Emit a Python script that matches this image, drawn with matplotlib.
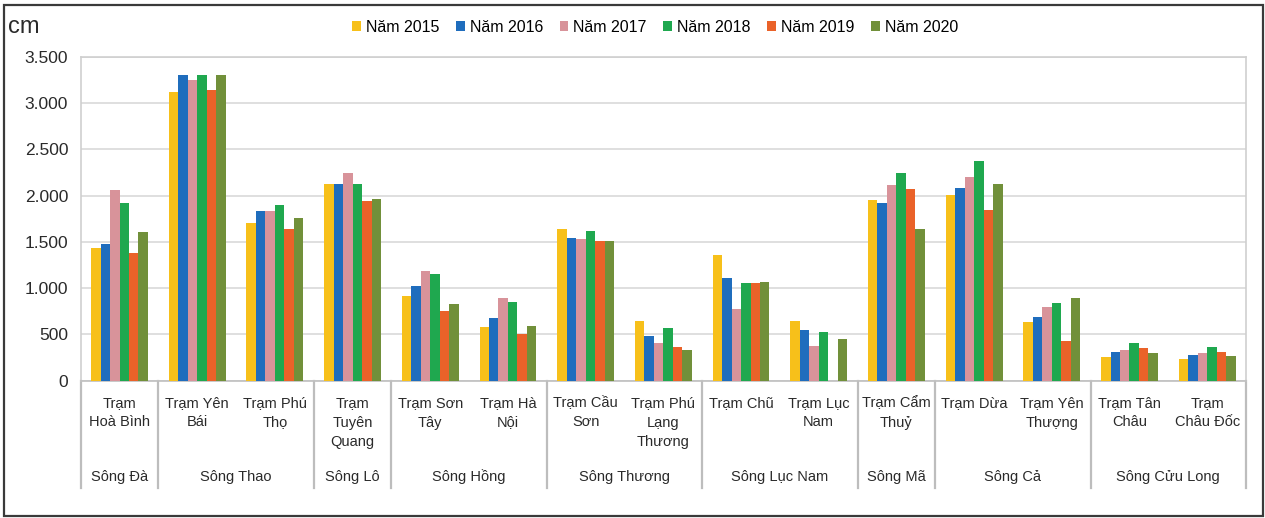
import numpy as np
import matplotlib
matplotlib.use("Agg")
import matplotlib.pyplot as plt
from matplotlib.patches import Patch, Rectangle
from matplotlib.transforms import blended_transform_factory
from matplotlib.ticker import FuncFormatter

plt.rcParams['font.family'] = ['Liberation Sans', 'DejaVu Sans']

stations = ["Trạm\nHoà Bình", "Trạm Yên\nBái", "Trạm Phú\nThọ", "Trạm\nTuyên\nQuang",
            "Trạm Sơn\nTây", "Trạm Hà\nNội", "Trạm Cầu\nSơn", "Trạm Phú\nLạng\nThương",
            "Trạm Chũ", "Trạm Lục\nNam", "Trạm Cẩm\nThuỷ", "Trạm Dừa", "Trạm Yên\nThượng",
            "Trạm Tân\nChâu", "Trạm\nChâu Đốc"]
rivers = ["Sông Đà", "Sông Thao", "Sông Lô", "Sông Hồng", "Sông Thương",
          "Sông Lục Nam", "Sông Mã", "Sông Cả", "Sông Cửu Long"]
river_sizes = [1, 2, 1, 2, 2, 2, 1, 2, 2]

years = ["Năm 2015", "Năm 2016", "Năm 2017", "Năm 2018", "Năm 2019", "Năm 2020"]
v2015 = [1430, 3120, 1700, 2125, 910, 576, 1635, 645, 1358, 645, 1950, 2006, 637, 252, 234]
v2016 = [1480, 3305, 1833, 2125, 1023, 681, 1541, 486, 1105, 547, 1916, 2078, 691, 306, 274]
v2017 = [2065, 3250, 1833, 2240, 1188, 889, 1530, 403, 771, 374, 2114, 2197, 800, 331, 302]
v2018 = [1916, 3305, 1898, 2125, 1152, 853, 1617, 573, 1051, 522, 2240, 2370, 843, 411, 367]
v2019 = [1376, 3145, 1635, 1941, 753, 500, 1505, 367, 1051, np.nan, 2067, 1844, 432, 357, 306]
v2020 = [1606, 3305, 1754, 1959, 828, 594, 1505, 331, 1066, 447, 1635, 2125, 897, 295, 266]
series = [v2015, v2016, v2017, v2018, v2019, v2020]
colors = ["#F7C01A", "#1F6DBD", "#D8939A", "#1FA84F", "#EA6229", "#71903A"]

W, H = 1265, 518
fig = plt.figure(figsize=(W / 100, H / 100), dpi=100)
ax_l, ax_r, ax_t, ax_b = 80.7, 1246, 56.7, 380.7
ax = fig.add_axes([ax_l / W, 1 - ax_b / H, (ax_r - ax_l) / W, (ax_b - ax_t) / H])

x = np.arange(len(stations))
bw = 0.122
for j, (vals, c) in enumerate(zip(series, colors)):
    ax.bar(x + (j - 2.5) * bw, vals, width=bw, color=c, zorder=3, linewidth=0)

ax.set_xlim(-0.5, len(stations) - 0.5)
ax.set_ylim(0, 3500)
ax.set_yticks(np.arange(0, 3501, 500))
ax.yaxis.set_major_formatter(FuncFormatter(lambda v, p: f"{int(v):,}".replace(",", ".")))
ax.tick_params(axis='y', length=0, pad=9, labelsize=12.5, labelcolor='#2a2a2a')
ax.set_xticks([])
ax.grid(axis='y', color='#D9D9D9', linewidth=1.2, zorder=0)
for s in ax.spines.values():
    s.set_color('#CFCFCF')
    s.set_linewidth(1.2)
ax.spines['bottom'].set_color('#BFBFBF')

# category labels
tr = blended_transform_factory(ax.transData, fig.transFigure)
for i, lab in enumerate(stations):
    ax.text(i, 1 - 396 / H, lab, transform=tr, ha='center', va='top',
            fontsize=10.5, color='#2a2a2a', linespacing=1.5, clip_on=False)

# river labels and separators
bounds = np.concatenate([[0], np.cumsum(river_sizes)])
for k, r in enumerate(rivers):
    c = (bounds[k] + bounds[k + 1]) / 2 - 0.5
    ax.text(c, 1 - 477 / H, r, transform=tr, ha='center', va='center',
            fontsize=10.5, color='#2a2a2a', clip_on=False)
for b in bounds:
    ax.plot([b - 0.5, b - 0.5], [1 - ax_b / H, 1 - 488 / H], transform=tr,
            color='#BDBDBD', linewidth=1.6, clip_on=False, zorder=1)

# legend
handles = [Patch(facecolor=c, edgecolor='none', label=y) for c, y in zip(colors, years)]
fig.legend(handles=handles, loc='center', bbox_to_anchor=(655 / W, 1 - 27 / H), ncol=6,
           frameon=False, fontsize=11.5, handlelength=0.55, handleheight=0.55,
           handletextpad=0.3, columnspacing=1.05, borderpad=0)

fig.text(8 / W, 1 - 27 / H, "cm", fontsize=17, va='center', ha='left', color='#2a2a2a')

fig.patches.append(Rectangle((4 / W, 1 - 516 / H), 1259 / W, 511 / H, transform=fig.transFigure,
                             fill=False, edgecolor='#3a3a3a', linewidth=1.6))

fig.savefig("out.png", dpi=100)
